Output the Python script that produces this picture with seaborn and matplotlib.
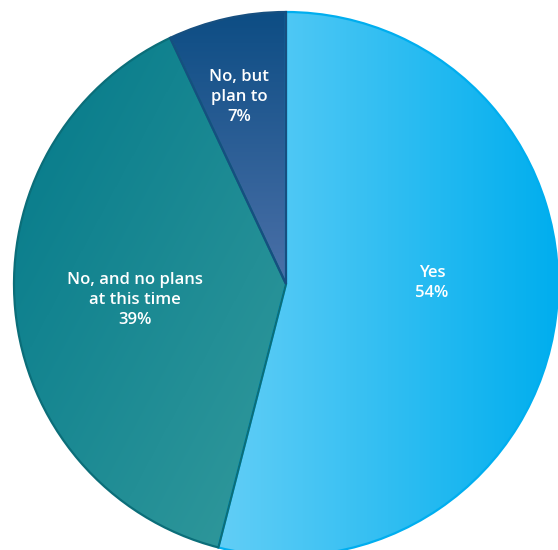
import numpy as np
import matplotlib
matplotlib.use("Agg")
import matplotlib.pyplot as plt
from matplotlib.colors import LinearSegmentedColormap
import seaborn as sns

# Survey responses
categories = ["Yes", "No, and no plans\nat this time", "No, but\nplan to"]
shares = [54, 39, 7]

sns.set_theme(style="white")
plt.rcParams["font.family"] = ["Open Sans", "DejaVu Sans"]

# gradient stops per slice: (start colour, end colour, direction)
gradients = [
    ("#62cef6", "#00aeee", "h"),
    ("#03798a", "#339a9c", "d"),
    ("#0d4d84", "#4b70a8", "v"),
]
edge_colors = ["#00aeef", "#0b6e79", "#164f80"]

W, H = 558, 550
fig = plt.figure(figsize=(W / 100, H / 100), dpi=100)
cx, cy, r = 286, 284, 272
ax = fig.add_axes([(cx - r) / W, (H - cy - r) / H, 2 * r / W, 2 * r / H])

wedges, _ = ax.pie(shares, startangle=90, counterclock=False, radius=1,
                   wedgeprops=dict(linewidth=0))
ax.set_aspect("equal")
ax.axis("off")

n = 256
xx, yy = np.meshgrid(np.linspace(0, 1, n), np.linspace(0, 1, n))
for w, (c0, c1, mode), ec in zip(wedges, gradients, edge_colors):
    cmap = LinearSegmentedColormap.from_list("g", [c0, c1])
    if mode == "h":
        field = xx
    elif mode == "v":
        field = yy
    else:
        field = np.clip((xx + yy) / 2, 0, 1)
    # stretch the gradient over the slice's own bounding box
    ext = w.get_path().get_extents(w.get_patch_transform())
    im = ax.imshow(field, cmap=cmap, extent=(ext.x0, ext.x1, ext.y0, ext.y1),
                   origin="upper", vmin=0, vmax=1, zorder=1,
                   interpolation="bilinear")
    im.set_clip_path(w)
    w.set_facecolor("none")
    w.set_edgecolor(ec)
    w.set_linewidth(1.6)
    w.set_zorder(2)
ax.set_xlim(-1, 1)
ax.set_ylim(-1, 1)

label_pos = [(0.537, 0.004), (-0.555, -0.059), (-0.173, 0.688)]
for name, val, (lx, ly) in zip(categories, shares, label_pos):
    ax.text(lx, ly, f"{name}\n{val}%", ha="center", va="center",
            color="white", fontsize=12, fontweight="semibold",
            linespacing=1.35, zorder=3)

fig.savefig("out.png", dpi=100)
